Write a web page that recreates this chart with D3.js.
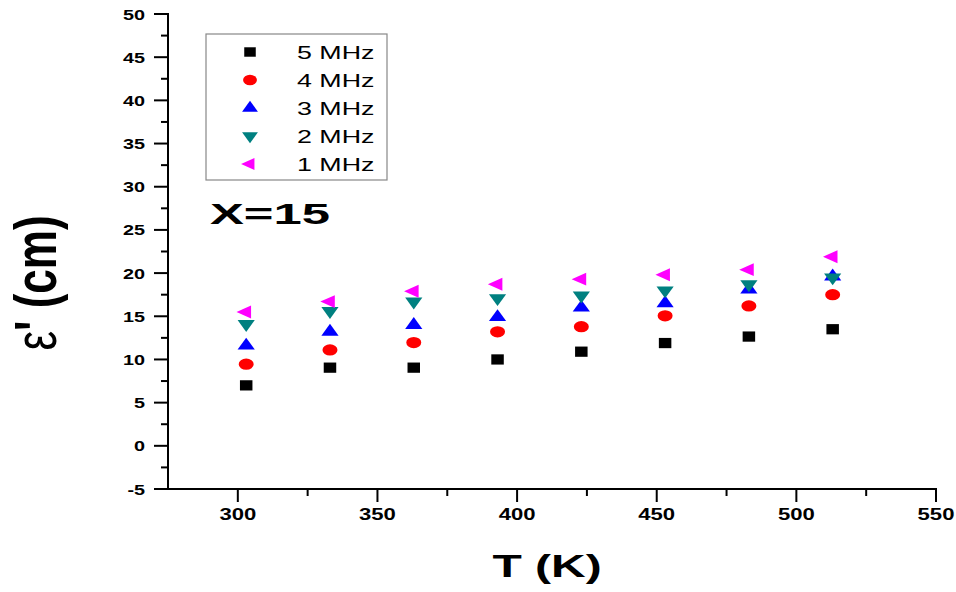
<!DOCTYPE html>
<html><head><meta charset="utf-8">
<script src="https://cdn.jsdelivr.net/npm/d3@7"></script>
<style>body{margin:0;background:#fff;} svg{display:block;}</style>
</head><body>
<svg id="chart" width="956" height="592"></svg>
<script>
// ---- data ----
const temps = [303, 333, 363, 393, 423, 453, 483, 513];
const mhz5 = [7.0, 9.05, 9.05, 10.0, 10.9, 11.9, 12.65, 13.5];
const mhz4 = [9.45, 11.1, 11.95, 13.2, 13.8, 15.05, 16.2, 17.5];
const mhz3 = [11.6, 13.2, 14.0, 14.9, 16.0, 16.5, 18.1, 19.6];
const mhz2 = [14.1, 15.6, 16.7, 17.1, 17.4, 18.0, 18.7, 19.5];
const mhz1 = [15.5, 16.7, 17.9, 18.7, 19.3, 19.8, 20.4, 21.9];
const seriesNames = ["5 MHz", "4 MHz", "3 MHz", "2 MHz", "1 MHz"];
const xTicks = [300, 350, 400, 450, 500, 550];
const yTicks = [-5, 0, 5, 10, 15, 20, 25, 30, 35, 40, 45, 50];

(function () {
const svg = d3.select("#chart");
const pl = 168, pr = 936, pt = 14, pb = 489;
const x = d3.scaleLinear().domain([275, 550]).range([pl, pr]);
const y = d3.scaleLinear().domain([-5, 50]).range([pb, pt]);
const SX = 1.32;

const styles = [
  {color: "#000000", type: d3.symbolSquare, size: 105, rot: 0, sx: 1.22},
  {color: "#ff0000", type: d3.symbolCircle, size: 100, rot: 0, sx: 1.33},
  {color: "#0000ff", type: d3.symbolTriangle, size: 82, rot: 0, sx: 1.25},
  {color: "#008080", type: d3.symbolTriangle, size: 82, rot: 180, sx: 1.25},
  {color: "#ff00ff", type: d3.symbolTriangle, size: 72, rot: -90, sx: 1.3}
];
const data = [mhz5, mhz4, mhz3, mhz2, mhz1];
const font = "'Liberation Sans', Arial, sans-serif";

// axes
const yMinor = d3.range(-5, 50.01, 2.5).filter(v => !yTicks.includes(v));
const xMinor = d3.range(300, 550.01, 25).filter(v => !xTicks.includes(v));
const axisG = svg.append("g");
axisG.append("line").attr("x1", pl).attr("x2", pl).attr("y1", pt - 1).attr("y2", pb + 1)
  .attr("stroke", "#000").attr("stroke-width", 2);
axisG.append("line").attr("x1", pl - 1).attr("x2", pr + 1).attr("y1", pb).attr("y2", pb)
  .attr("stroke", "#000").attr("stroke-width", 2);
yTicks.forEach(v => {
  axisG.append("line").attr("x1", pl - 14).attr("x2", pl).attr("y1", y(v)).attr("y2", y(v))
    .attr("stroke", "#000").attr("stroke-width", 2);
  axisG.append("text").attr("transform", `translate(${pl - 23},${y(v) + 5.5}) scale(${SX},1)`)
    .attr("text-anchor", "end").attr("font-family", font).attr("font-weight", "bold")
    .attr("font-size", 15).text(v);
});
yMinor.forEach(v => {
  axisG.append("line").attr("x1", pl - 7).attr("x2", pl).attr("y1", y(v)).attr("y2", y(v))
    .attr("stroke", "#000").attr("stroke-width", 2);
});
xTicks.forEach(v => {
  axisG.append("line").attr("x1", x(v)).attr("x2", x(v)).attr("y1", pb).attr("y2", pb + 13)
    .attr("stroke", "#000").attr("stroke-width", 2);
  axisG.append("text").attr("transform", `translate(${x(v)},${pb + 31}) scale(1.3,1)`)
    .attr("text-anchor", "middle").attr("font-family", font).attr("font-weight", "bold")
    .attr("font-size", 17).text(v);
});
xMinor.forEach(v => {
  axisG.append("line").attr("x1", x(v)).attr("x2", x(v)).attr("y1", pb).attr("y2", pb + 7)
    .attr("stroke", "#000").attr("stroke-width", 2);
});

// axis titles
svg.append("text").attr("transform", `translate(547,577) scale(1.5,1)`)
  .attr("text-anchor", "middle").attr("font-family", font).attr("font-weight", "bold")
  .attr("font-size", 32).text("T (K)");
const yl = svg.append("text").attr("transform", `translate(56,283) scale(1.35,1) rotate(-90)`)
  .attr("text-anchor", "middle").attr("font-family", font).attr("font-weight", "bold")
  .attr("font-size", 44);
yl.append("tspan").attr("font-weight", "normal").text("ε");
yl.append("tspan").text("' (cm)");

// points
data.forEach((vals, i) => {
  const st = styles[i];
  const sym = d3.symbol().type(st.type).size(st.size);
  svg.append("g").selectAll("path").data(vals).join("path")
    .attr("d", sym)
    .attr("transform", (d, j) => `translate(${x(temps[j])},${y(d)}) scale(${st.sx},1) rotate(${st.rot})`)
    .attr("fill", st.color);
});

// legend
const lg = svg.append("g");
lg.append("rect").attr("x", 206).attr("y", 34).attr("width", 181).attr("height", 146)
  .attr("fill", "#fff").attr("stroke", "#888").attr("stroke-width", 1.2);
seriesNames.forEach((name, i) => {
  const st = styles[i];
  const cy = 52 + i * 28;
  lg.append("path").attr("d", d3.symbol().type(st.type).size(st.size * 0.85)())
    .attr("transform", `translate(250,${cy}) scale(${st.sx},1) rotate(${st.rot})`)
    .attr("fill", st.color);
  lg.append("text").attr("transform", `translate(297,${cy + 7}) scale(1.45,1)`)
    .attr("font-family", font).attr("font-size", 18.5).text(name);
});

// annotation
svg.append("text").attr("x", 210).attr("y", 224).attr("font-family", font).attr("font-weight", "bold")
  .attr("font-size", 29).attr("textLength", 120).attr("lengthAdjust", "spacingAndGlyphs").text("X=15");
})();
</script>
</body></html>
